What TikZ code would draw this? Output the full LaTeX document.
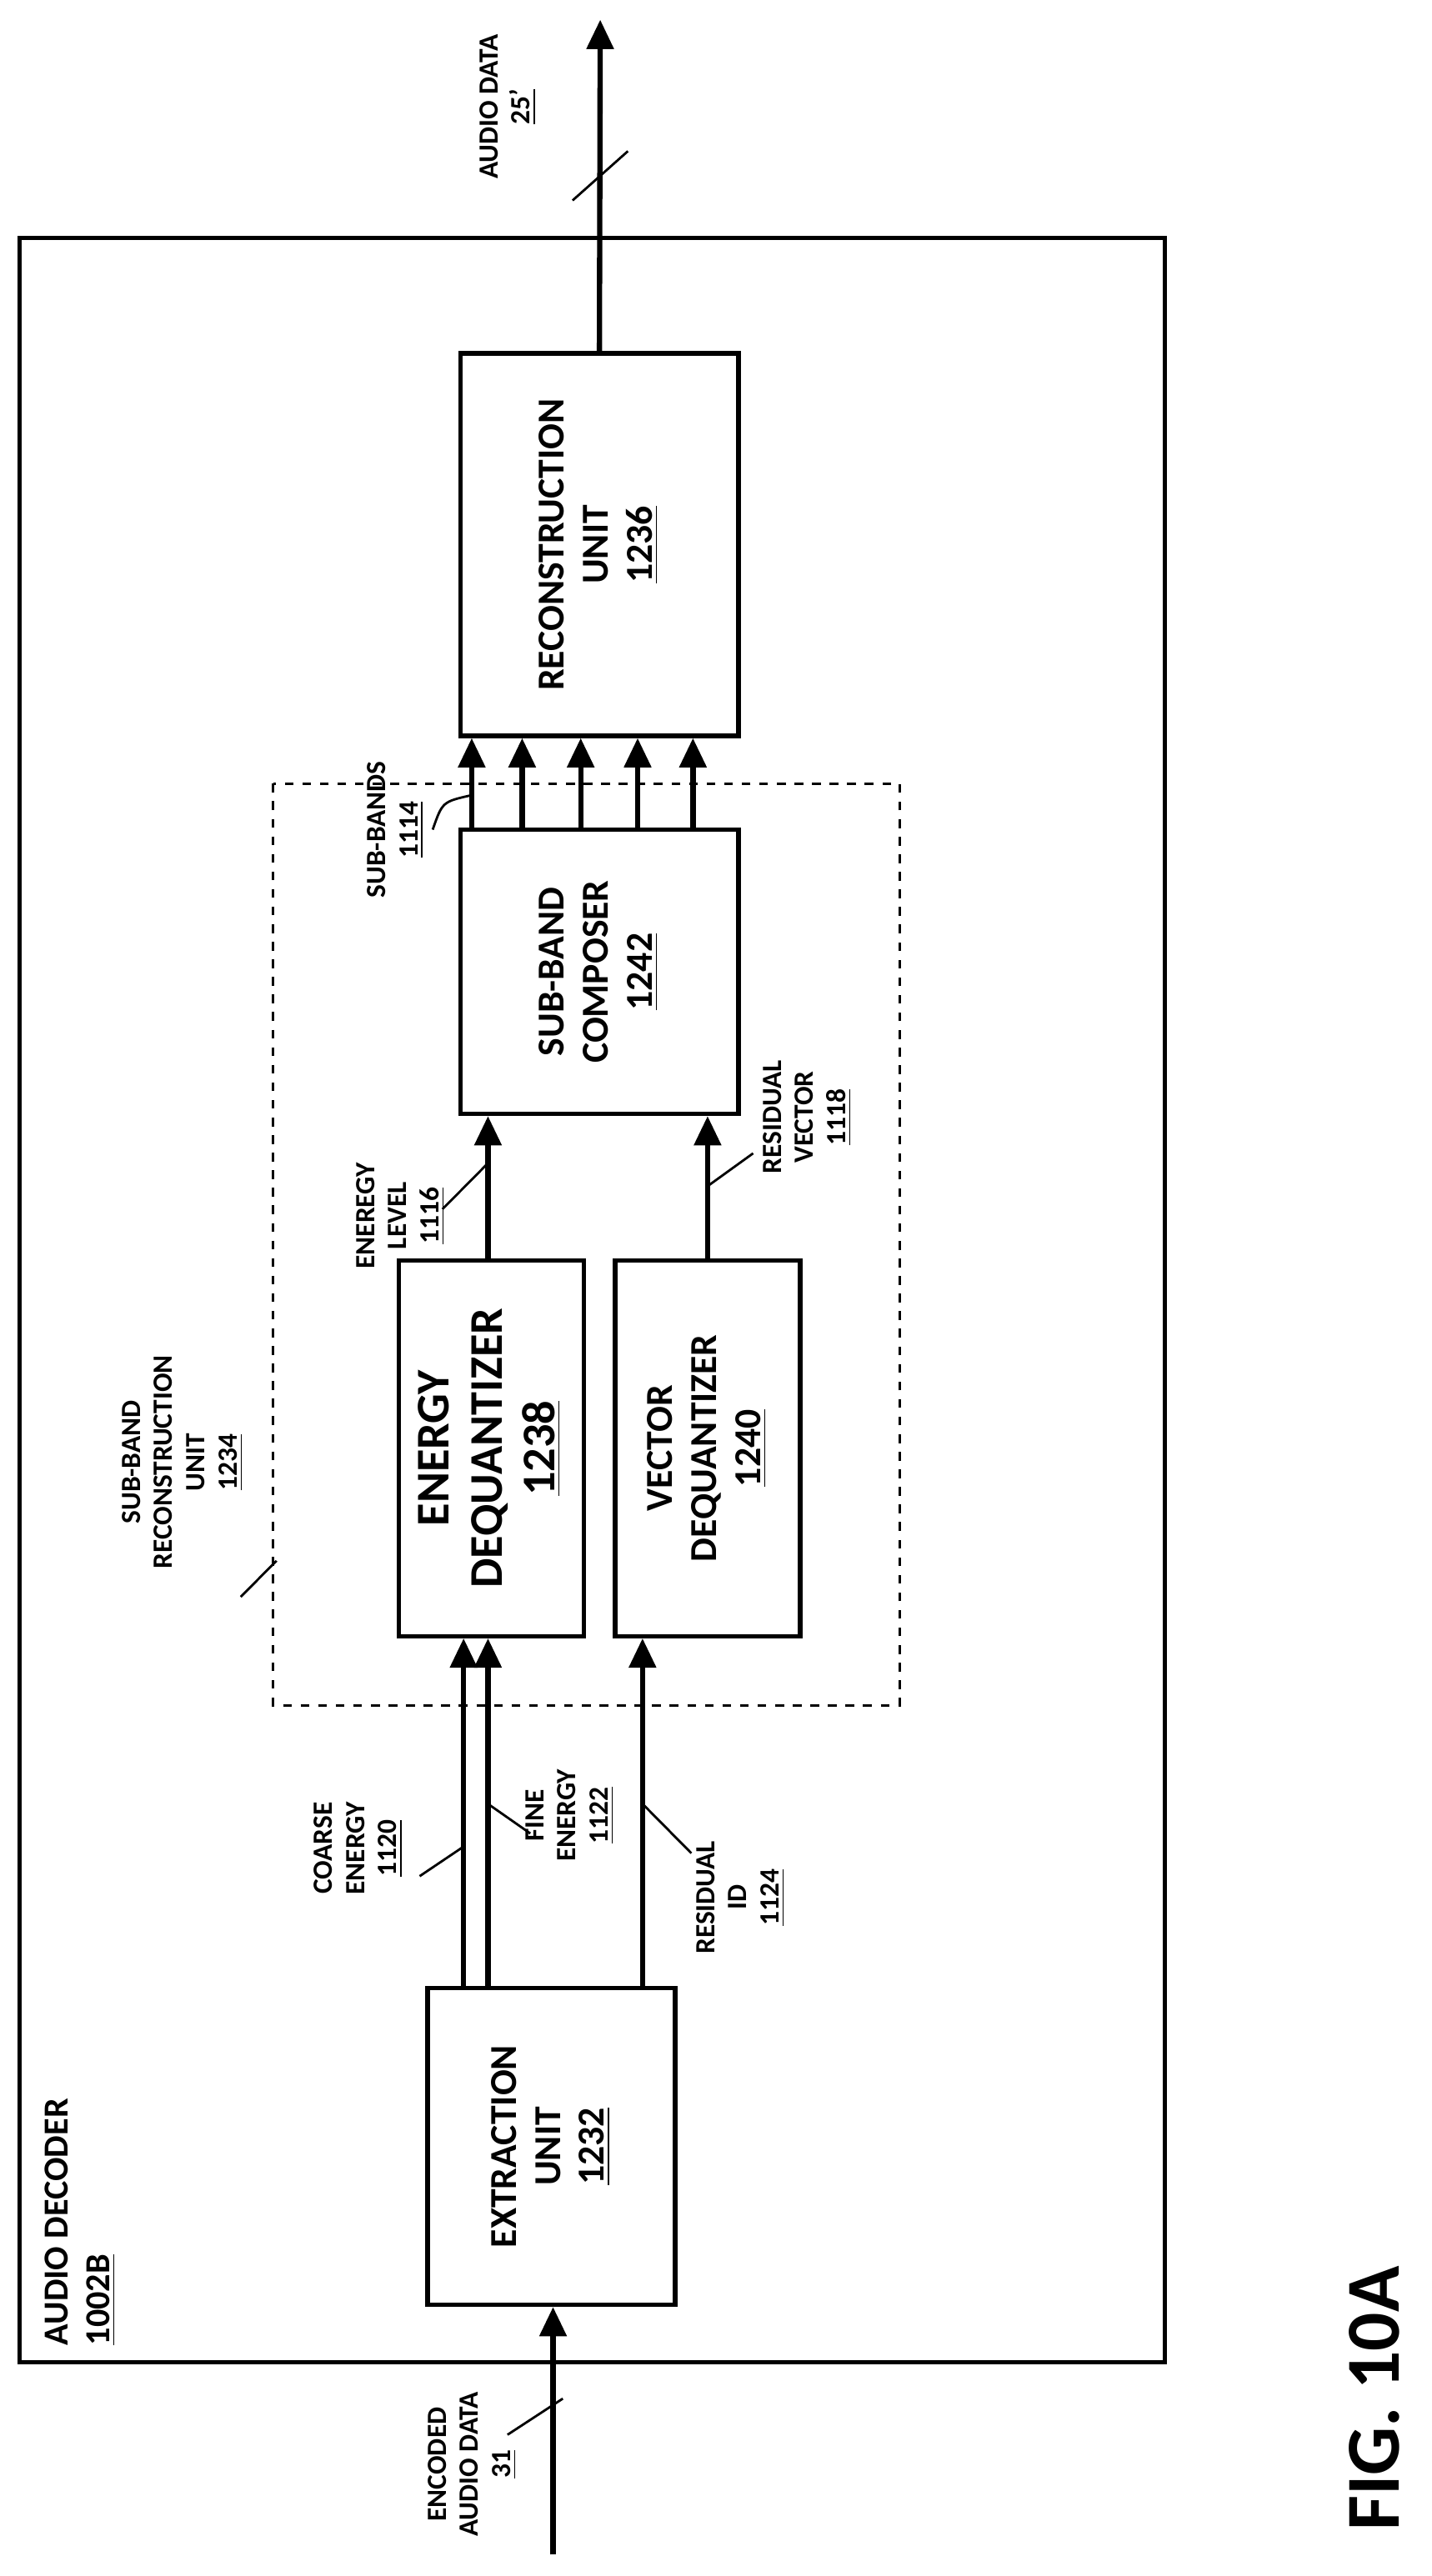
\documentclass[tikz,border=0pt]{standalone}
\usepackage{fontspec}
\setmainfont{Carlito}
\usetikzlibrary{arrows.meta}

\tikzset{
  box/.style={draw, line width=1.5pt, inner sep=0pt, font=\fontsize{13}{15}\selectfont\bfseries},
  arr/.style={line width=1.8pt, -{Triangle[length=10pt,width=9pt]}},
  lbl/.style={font=\fontsize{9.5}{11}\selectfont\bfseries, inner sep=1pt},
  tick/.style={line width=0.8pt}
}
\newcommand{\rt}[1]{\rotatebox{90}{\begin{tabular}{@{}c@{}}#1\end{tabular}}}

\begin{document}
\begin{tikzpicture}[x=0.01951cm, y=-0.01971cm]
  \useasboundingbox (0,0) rectangle (880,1568);

  % Outer frame and dashed group
  \draw[line width=1.5pt] (12,145) rectangle (716,1438);
  \draw[dashed, line width=0.8pt] (168,477) rectangle (553,1038);

  % Blocks
  \node[box, minimum width=3.34cm, minimum height=4.59cm] at (368.5,331.5) (recon) {\rt{RECONSTRUCTION\\UNIT\\\underline{1236}}};
  \node[box, minimum width=3.34cm, minimum height=3.41cm] at (368.5,591.5) (comp) {\rt{SUB-BAND\\COMPOSER\\\underline{1242}}};
  \node[box, minimum width=2.22cm, minimum height=4.51cm, font=\fontsize{16}{18}\selectfont\bfseries] at (302,881.5) (edq) {\rt{ENERGY\\DEQUANTIZER\\\underline{1238}}};
  \node[box, minimum width=2.22cm, minimum height=4.51cm] at (435,881.5) (vdq) {\rt{VECTOR\\DEQUANTIZER\\\underline{1240}}};
  \node[box, minimum width=2.97cm, minimum height=3.80cm] at (339,1306.5) (ext) {\rt{EXTRACTION\\UNIT\\\underline{1232}}};

  % Column positions
  \foreach \n/\x in {a/290, b/321, c/357, d/392, e/426, ce/285, fe/300, ri/395, el/300, rv/435}
    \coordinate (x\n) at (\x,0);
  \coordinate (out) at (369,12);
  \coordinate (in) at (340,1555);

  % Connectors
  \draw[arr] (recon.north) -- (out);
  \foreach \n in {a,b,c,d,e}
    \draw[arr] (comp.north -| x\n) -- (recon.south -| x\n);
  \draw[arr] (edq.north -| xel) -- (comp.south -| xel);
  \draw[arr] (vdq.north -| xrv) -- (comp.south -| xrv);
  \draw[arr] (ext.north -| xce) -- (edq.south -| xce);
  \draw[arr] (ext.north -| xfe) -- (edq.south -| xfe);
  \draw[arr] (ext.north -| xri) -- (vdq.south -| xri);
  \draw[arr] (in) -- (ext.south -| in);

  % Labels
  \node[lbl] at (312,65) (lout) {\rt{AUDIO DATA\\\underline{25'}}};
  \draw[tick] (352,122) -- (386,92);
  \node[lbl] at (243,505) (lsb) {\rt{SUB-BANDS\\\underline{1114}}};
  \draw[tick] (266,505) .. controls (272,488) .. (290,484);
  \node[lbl] at (246,740) (lel) {\rt{ENEREGY\\LEVEL\\\underline{1116}}};
  \draw[tick] (272,736) -- (300,708);
  \node[lbl] at (496,680) (lrv) {\rt{RESIDUAL\\VECTOR\\\underline{1118}}};
  \draw[tick] (435,722) -- (463,702);
  \node[lbl] at (220,1125) (lce) {\rt{COARSE\\ENERGY\\\underline{1120}}};
  \draw[tick] (258,1142) -- (285,1124);
  \node[lbl] at (350,1105) (lfe) {\rt{FINE\\ENERGY\\\underline{1122}}};
  \draw[tick] (300,1098) -- (326,1116);
  \node[lbl] at (455,1155) (lri) {\rt{RESIDUAL\\ID\\\underline{1124}}};
  \draw[tick] (395,1098) -- (425,1128);
  \node[lbl] at (290,1500) (lin) {\rt{ENCODED\\AUDIO DATA\\\underline{31}}};
  \draw[tick] (312,1482) -- (346,1460);
  \node[lbl] at (112,890) (lsr) {\rt{SUB-BAND\\RECONSTRUCTION\\UNIT\\\underline{1234}}};
  \draw[tick] (148,972) -- (170,950);
  \node[lbl, font=\fontsize{12}{14}\selectfont\bfseries, anchor=south west, inner sep=0pt] at (24,1428) (ldec) {\rotatebox{90}{\begin{tabular}{@{}l@{}}AUDIO DECODER\\\underline{1002B}\end{tabular}}};
  \node[font=\fontsize{26}{30}\selectfont\bfseries] at (845,1460) (fig) {\rotatebox{90}{FIG. 10A}};
\end{tikzpicture}
\end{document}
